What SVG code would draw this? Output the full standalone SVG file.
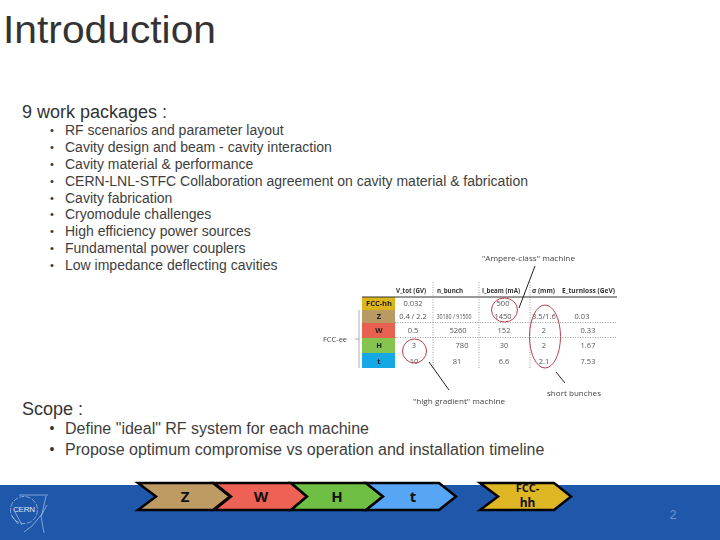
<svg xmlns="http://www.w3.org/2000/svg" width="720" height="540" viewBox="0 0 720 540">
<defs><filter id="soft" x="-5%" y="-5%" width="110%" height="110%"><feGaussianBlur stdDeviation="0.45"/></filter></defs>
<style>
text{font-family:"Liberation Sans",Arial,sans-serif}
.b{font-size:14px;fill:#3e3e3e}
.b2{font-size:16px;fill:#3e3e3e}
.s{font-size:11px;fill:#333;text-anchor:middle}
.s2{font-size:14px;fill:#333;text-anchor:middle}
.h{font-size:18px;fill:#333}
.th{font-size:7px;font-weight:bold;fill:#333;font-family:"Open Sans",sans-serif}
.td{font-size:7.5px;fill:#555;text-anchor:middle;font-family:"Open Sans",sans-serif}
.rl{font-size:7.5px;font-weight:bold;fill:#222;text-anchor:middle;font-family:"Open Sans",sans-serif}
.an{font-size:8px;fill:#444;font-family:"Open Sans",sans-serif}
.dot{stroke:#777;stroke-width:.7;stroke-dasharray:1 1.5;fill:none}
.red{fill:none;stroke:#b8424f;stroke-width:1}
.ln{stroke:#222;stroke-width:1;fill:none}
.ch{stroke:#000;stroke-width:2.5;stroke-linejoin:miter}
.cht{font-family:"Noto Sans","DejaVu Sans",sans-serif;font-weight:bold;font-size:15px;fill:#111;text-anchor:middle}
</style>
<rect width="720" height="540" fill="#fff"/>
<rect x="0" y="485" width="720" height="55" fill="#1f58ab"/>
<g id="logo" fill="none" stroke="#c5d6ee" stroke-width=".6">
<circle cx="24" cy="510" r="13.500" stroke-dasharray="5 1.500"/>
<path d="M19 495H48M46 496L42 514L32 526L24 532M47 505L41 516L44 533M12 516L18 524M15 512L22 525"/>
<text x="13" y="512" font-size="8" fill="#dce7f6" stroke="none" textLength="22">CERN</text>
</g>
<text x="3" y="43" font-size="38" fill="#333" textLength="213" lengthAdjust="spacingAndGlyphs">Introduction</text>
<text class="h" x="22" y="118">9 work packages :</text>
<g id="list">
<text class="s" x="52" y="134">•</text><text class="s" x="52" y="151">•</text><text class="s" x="52" y="168">•</text><text class="s" x="52" y="185">•</text><text class="s" x="52" y="202">•</text><text class="s" x="52" y="218">•</text><text class="s" x="52" y="235">•</text><text class="s" x="52" y="252">•</text><text class="s" x="52" y="269">•</text>
<text class="b" x="65" y="135">RF scenarios and parameter layout</text>
<text class="b" x="65" y="152">Cavity design and beam - cavity interaction</text>
<text class="b" x="65" y="169">Cavity material &amp; performance</text>
<text class="b" x="65" y="186">CERN-LNL-STFC Collaboration agreement on cavity material &amp; fabrication</text>
<text class="b" x="65" y="203">Cavity fabrication</text>
<text class="b" x="65" y="219">Cryomodule challenges</text>
<text class="b" x="65" y="236">High efficiency power sources</text>
<text class="b" x="65" y="253">Fundamental power couplers</text>
<text class="b" x="65" y="270">Low impedance deflecting cavities</text>
</g>
<g id="table" filter="url(#soft)">
<rect x="362" y="297" width="33" height="13" fill="#dcb41e"/>
<rect x="362" y="310" width="33" height="13" fill="#b99a64"/>
<rect x="362" y="323" width="33" height="15" fill="#e8604f"/>
<rect x="362" y="338" width="33" height="15" fill="#84c450"/>
<rect x="362" y="353" width="33" height="15" fill="#12a8e4"/>
<path d="M362 297H617" stroke="#333" stroke-width="1"/>
<path class="dot" d="M395 322.500H617M395 337.500H617M433 282V368M479 282V368M530 282V368"/>
<path d="M359 310V368M355 339H359" stroke="#999" stroke-width=".8" fill="none"/>
<text class="th" x="396" y="293" textLength="30" lengthAdjust="spacingAndGlyphs">V_tot (GV)</text>
<text class="th" x="437" y="293" textLength="26" lengthAdjust="spacingAndGlyphs">n_bunch</text>
<text class="th" x="482" y="293" textLength="38" lengthAdjust="spacingAndGlyphs">I_beam (mA)</text>
<text class="th" x="532" y="293" textLength="23" lengthAdjust="spacingAndGlyphs">σ (mm)</text>
<text class="th" x="562" y="293" textLength="53" lengthAdjust="spacingAndGlyphs">E_turnloss (GeV)</text>
<text class="rl" x="379" y="306">FCC-hh</text><text class="rl" x="379" y="319">Z</text><text class="rl" x="379" y="333">W</text><text class="rl" x="379" y="348">H</text><text class="rl" x="379" y="364">t</text>
<text class="td" x="413" y="306">0.032</text><text class="td" x="503" y="306">500</text>
<text class="td" x="413" y="319">0.4 / 2.2</text><text class="td" x="454" y="319" textLength="35" lengthAdjust="spacingAndGlyphs">30180 / 91500</text><text class="td" x="503" y="319">1450</text><text class="td" x="544" y="319">3.5/1.6</text><text class="td" x="582" y="319">0.03</text>
<text class="td" x="413" y="333">0.5</text><text class="td" x="458" y="333">5260</text><text class="td" x="504" y="333">152</text><text class="td" x="544" y="333">2</text><text class="td" x="588" y="333">0.33</text>
<text class="td" x="414" y="348">3</text><text class="td" x="462" y="348">780</text><text class="td" x="504" y="348">30</text><text class="td" x="544" y="348">2</text><text class="td" x="588" y="348">1.67</text>
<text class="td" x="414" y="364">10</text><text class="td" x="457" y="364">81</text><text class="td" x="504" y="364">6.6</text><text class="td" x="544" y="364">2.1</text><text class="td" x="588" y="364">7.53</text>
<text class="an" x="323" y="342" textLength="24" lengthAdjust="spacingAndGlyphs">FCC-ee</text>
<text class="an" x="482" y="261" textLength="93" lengthAdjust="spacingAndGlyphs">"Ampere-class" machine</text>
<text class="an" x="413" y="404" textLength="92" lengthAdjust="spacingAndGlyphs">"high gradient" machine</text>
<text class="an" x="547" y="396" textLength="54" lengthAdjust="spacingAndGlyphs">short bunches</text>
<ellipse class="red" cx="504.500" cy="310" rx="13" ry="12"/>
<ellipse class="red" cx="414.500" cy="351" rx="12" ry="12"/>
<ellipse class="red" cx="545" cy="336.500" rx="15.500" ry="31.500"/>
<path class="ln" d="M535 266L519 308M429 362L449 390M556 372L565 383"/>
</g>
<text class="h" x="22" y="415">Scope :</text>
<g id="scope">
<text class="s2" x="52" y="433">•</text><text class="b2" x="65" y="434">Define "ideal" RF system for each machine</text>
<text class="s2" x="52" y="454">•</text><text class="b2" x="65" y="455">Propose optimum compromise vs operation and installation timeline</text>
</g>
<g id="chevron-z"><path class="ch" d="M138 483H213L230 496.500L213 510H138L156 496.500Z" fill="#bd9b63"/><text class="cht" x="185" y="502">Z</text></g>
<g id="chevron-w"><path class="ch" d="M214 483H291L307 496.500L291 510H214L231 496.500Z" fill="#ee6155"/><text class="cht" x="261" y="502">W</text></g>
<g id="chevron-h"><path class="ch" d="M291 483H366L383 496.500L366 510H291L307 496.500Z" fill="#6fbf45"/><text class="cht" x="337" y="502">H</text></g>
<g id="chevron-t"><path class="ch" d="M366 483H439L456 496.500L439 510H366L383 496.500Z" fill="#57a5f5"/><text class="cht" x="413" y="502">t</text></g>
<g id="chevron-fcchh"><path class="ch" d="M480 483H554L571 496.500L554 510H480L498 496.500Z" fill="#dfb725"/><text class="cht" x="527.500" y="492" style="font-size:11px">FCC-</text><text class="cht" x="527.500" y="507" style="font-size:12px">hh</text></g>
<text x="673" y="519" font-size="12" fill="#6f94d2" text-anchor="middle">2</text>
</svg>
